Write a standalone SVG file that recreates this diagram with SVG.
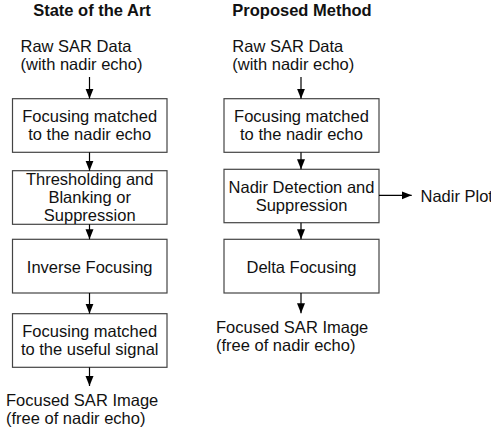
<svg xmlns="http://www.w3.org/2000/svg" width="491" height="435" viewBox="0 0 491 435">
<defs>
<marker id="ah" markerUnits="userSpaceOnUse" markerWidth="12" markerHeight="10" refX="10" refY="4" orient="auto">
<path d="M0,0 L10,4 L0,8 Z" fill="#000"/>
</marker>
<style>
text{font-family:"Liberation Sans",Arial,sans-serif;font-size:16.5px;fill:#111}
.t{font-weight:bold;text-anchor:middle}
.c{text-anchor:middle}
.box{fill:#fff;stroke:#444;stroke-width:1.2}
.con line{stroke:#000;stroke-width:1.2;marker-end:url(#ah)}
</style>
</defs>
<rect width="491" height="435" fill="#fff"/>
<text class="t" x="92" y="15.5">State of the Art</text>
<text class="t" x="302" y="15.5">Proposed Method</text>

<g id="raw-left"><text x="20.5" y="51.5">Raw SAR Data</text><text x="20.5" y="69.5">(with nadir echo)</text></g>
<g id="raw-right"><text x="232.3" y="51.5">Raw SAR Data</text><text x="232.3" y="69.5">(with nadir echo)</text></g>

<g id="l1"><rect class="box" x="12.5" y="98.7" width="154.5" height="53.6"/><text class="c" x="89.7" y="122">Focusing matched</text><text class="c" x="89.7" y="140.3">to the nadir echo</text></g>
<g id="l2"><rect class="box" x="12.5" y="170.7" width="154.5" height="53.6"/><text class="c" x="89.7" y="185">Thresholding and</text><text class="c" x="89.7" y="203">Blanking or</text><text class="c" x="89.7" y="221">Suppression</text></g>
<g id="l3"><rect class="box" x="12.5" y="239.3" width="154.5" height="53.7"/><text class="c" x="89.7" y="272.5">Inverse Focusing</text></g>
<g id="l4"><rect class="box" x="12.5" y="313.7" width="154.5" height="53.6"/><text class="c" x="89.7" y="337">Focusing matched</text><text class="c" x="89.7" y="355.3">to the useful signal</text></g>
<g id="out-left"><text x="6" y="406">Focused SAR Image</text><text x="6" y="423.5">(free of nadir echo)</text></g>

<g id="r1"><rect class="box" x="224" y="98.7" width="155" height="53.6"/><text class="c" x="301.5" y="122">Focusing matched</text><text class="c" x="301.5" y="140.3">to the nadir echo</text></g>
<g id="r2"><rect class="box" x="224" y="169.3" width="155" height="53.4"/><text class="c" x="301.5" y="193">Nadir Detection and</text><text class="c" x="301.5" y="211">Suppression</text></g>
<g id="r3"><rect class="box" x="224" y="239.3" width="155" height="53.7"/><text class="c" x="301.5" y="272.5">Delta Focusing</text></g>
<g id="out-right"><text x="216" y="333">Focused SAR Image</text><text x="216" y="351">(free of nadir echo)</text></g>
<g id="nadir-plot"><text x="420.5" y="201.5">Nadir Plot</text></g>

<g class="con" id="connectors">
<line x1="89.5" y1="77" x2="89.5" y2="98.7"/>
<line x1="89.5" y1="152.3" x2="89.5" y2="170.7"/>
<line x1="89.5" y1="224.3" x2="89.5" y2="239.3"/>
<line x1="89.5" y1="293" x2="89.5" y2="313.7"/>
<line x1="89.5" y1="367.3" x2="89.5" y2="386"/>
<line x1="301" y1="77" x2="301" y2="98.7"/>
<line x1="301" y1="152.3" x2="301" y2="169.3"/>
<line x1="301" y1="222.7" x2="301" y2="239.3"/>
<line x1="301" y1="293" x2="301" y2="313.3"/>
<line x1="379" y1="195.3" x2="411.7" y2="195.3"/>
</g>
</svg>
